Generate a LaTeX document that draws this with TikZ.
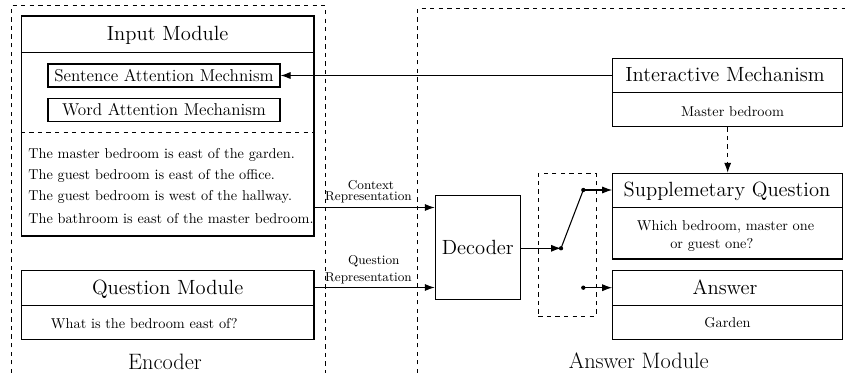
\documentclass[tikz,border=0pt]{standalone}
\usetikzlibrary{arrows.meta}
\begin{document}
\begin{tikzpicture}[x=0.7pt,y=-0.7pt,
  box/.style={draw, line width=0.75pt, inner sep=0pt, rectangle},
  lbl/.style={inner sep=0pt, anchor=base},
  txt/.style={inner sep=0pt, anchor=base west},
  arr/.style={-{Latex[length=7pt,width=5pt]}, line width=0.75pt},
  grp/.style={dashed, line width=0.7pt},
  divider/.style={line width=0.75pt},
  dot/.style={circle, fill, inner sep=0pt, minimum size=3pt},
  rep/.style={inner sep=0pt, anchor=base, font=\fontsize{9}{10}\selectfont},
  big/.style={font=\fontsize{15.6}{18}\selectfont}]
\useasboundingbox (0,0) rectangle (845,373);

% group frames
\draw[grp] (11,373) -- (11,6) -- (325.7,6) -- (325.7,373);
\draw[grp] (417.5,373) -- (417.5,8.5) -- (845,8.5);

% helper coordinates
\coordinate (h1) at (0,52.3);
\coordinate (h2) at (0,132.7);
\coordinate (h3) at (0,305.7);
\coordinate (h4) at (0,92.7);
\coordinate (h5) at (0,207.7);
\coordinate (h6) at (0,305.3);
\coordinate (cy) at (0,207.5);
\coordinate (qy) at (0,287.5);

% Input module
\node[box, minimum width=204.9pt, minimum height=154pt] (input) at (167.65,126) {};
\draw[divider] (input.west |- h1) -- (input.east |- h1);
\draw[divider, dashed] (input.west |- h2) -- (input.east |- h2);
\node[lbl, font=\Large] (inputlbl) at (167.65,41) {Input Module};
\node[box, minimum width=162.4pt, minimum height=16.1pt, font=\large] (sent) at (164,75.5) {Sentence Attention Mechnism};
\node[box, minimum width=162.4pt, minimum height=15.9pt, font=\large] (word) at (164,109.7) {Word Attention Mechanism};
\node[txt] (b1) at (28,159) {The master bedroom is east of the garden.};
\node[txt] (b2) at (28,180) {The guest bedroom is east of the office.};
\node[txt] (b3) at (28,201) {The guest bedroom is west of the hallway.};
\node[txt] (b4) at (28,224) {The bathroom is east of the master bedroom.};

% Question module
\node[box, minimum width=204.9pt, minimum height=48.3pt] (question) at (167.65,304.8) {};
\draw[divider] (question.west |- h3) -- (question.east |- h3);
\node[lbl, font=\Large] (questionlbl) at (167.65,295) {Question Module};
\node[txt] (qtext) at (50.7,328.3) {What is the bedroom east of?};

\node[lbl, big] (enclbl) at (165,369.3) {Encoder};

% Decoder
\node[box, minimum width=59.5pt, minimum height=72.5pt, font=\Large] (decoder) at (477.8,247.5) {Decoder};

% Interactive mechanism
\node[box, minimum width=161pt, minimum height=47.6pt] (inter) at (727.7,92.7) {};
\draw[divider] (inter.west |- h4) -- (inter.east |- h4);
\node[lbl, font=\Large] (interlbl) at (725,82) {Interactive Mechanism};
\node[lbl] (intertext) at (732.5,116.5) {Master bedroom};

% Supplementary question
\node[box, minimum width=161pt, minimum height=60pt] (supp) at (727.7,216.15) {};
\draw[divider] (supp.west |- h5) -- (supp.east |- h5);
\node[lbl, font=\Large] (supplbl) at (727,197) {Supplemetary Question};
\node[txt] (supptext1) at (636.7,231) {Which bedroom, master one};
\node[txt] (supptext2) at (670,248.3) {or guest one?};

% Answer
\node[box, minimum width=161pt, minimum height=48pt] (answer) at (727.7,305) {};
\draw[divider] (answer.west |- h6) -- (answer.east |- h6);
\node[lbl, font=\Large] (answerlbl) at (725,294.5) {Answer};
\node[lbl] (answertext) at (727.5,328) {Garden};

\node[lbl, big] (anslbl) at (638.8,368.5) {Answer Module};

% switch
\node[draw, dashed, line width=0.7pt, inner sep=0pt, minimum width=40.4pt, minimum height=99.9pt] (sw) at (567.15,244.65) {};
\node[dot] (d0) at (561,248.3) {};
\node[dot] (d1) at (583.3,190) {};
\node[dot] (d2) at (583.3,287.7) {};

% connectors
\draw[arr] (input.east |- cy) -- (decoder.west |- cy);
\draw[arr] (question.east |- qy) -- (decoder.west |- qy);
\node[rep] (ctx1) at (371,190) {Context};
\node[rep] (ctx2) at (368.5,201) {Representation};
\node[rep] (qr1) at (373.8,264.3) {Question};
\node[rep] (qr2) at (368.5,281.7) {Representation};

\draw[arr] (decoder.east |- d0) -- (d0.center);
\draw[line width=0.75pt] (d0.center) -- (d1.center);
\draw[arr] (d1.center) -- (supp.west |- d1);
\draw[arr] (d2.center) -- (answer.west |- d2);
\draw[arr] (inter.west |- sent.east) -- (sent.east);
\draw[arr, dashed] (inter.south) -- (supp.north);
\end{tikzpicture}
\end{document}
